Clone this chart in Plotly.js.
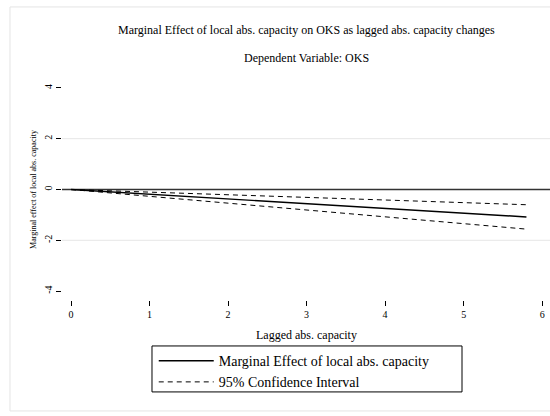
<!DOCTYPE html>
<html>
<head>
<meta charset="utf-8">
<script src="https://cdn.plot.ly/plotly-3.0.1.min.js"></script>
<style>html,body{margin:0;padding:0;background:#fff;}#chart{width:550px;height:416px;}</style>
</head>
<body>
<div id="chart"></div>
<script>
// Data
const lagCapacity = [0, 1, 2, 3, 4, 5, 5.8];
const marginalEffect = [0, -0.19, -0.37, -0.56, -0.75, -0.93, -1.08];
const ciUpper = [0, -0.10, -0.21, -0.31, -0.41, -0.52, -0.60];
const ciLower = [0, -0.27, -0.54, -0.81, -1.08, -1.35, -1.56];
const xTicks = [0, 1, 2, 3, 4, 5, 6];
const yTicks = [-4, -2, 0, 2, 4];
const gridLevels = [-2, 2];

const serif = 'Liberation Serif, Times New Roman, serif';

const traces = [
  {x: lagCapacity, y: marginalEffect, mode: 'lines', name: 'Marginal Effect of local abs. capacity',
   line: {color: '#000', width: 1.4}},
  {x: lagCapacity, y: ciUpper, mode: 'lines', name: '95% Confidence Interval',
   line: {color: '#000', width: 1, dash: '5px,4px'}},
  {x: lagCapacity, y: ciLower, mode: 'lines', name: '95% Confidence Interval', showlegend: false,
   line: {color: '#000', width: 1, dash: '5px,4px'}}
];

const shapes = gridLevels.map(v => ({
  type: 'line', xref: 'paper', x0: 0, x1: 1, yref: 'y', y0: v, y1: v,
  line: {color: '#e6e6e6', width: 1}, layer: 'below'
}));
shapes.push({type: 'line', xref: 'paper', x0: 0, x1: 1, yref: 'y', y0: 0, y1: 0,
  line: {color: '#333', width: 1.5}, layer: 'below'});
// outer frame
shapes.push({type: 'rect', xref: 'paper', yref: 'paper', x0: -0.1066, x1: 1.02, y0: -0.502, y1: 1.326,
  line: {color: '#e4e4e4', width: 1}, fillcolor: 'rgba(0,0,0,0)', layer: 'below'});
// legend frame
shapes.push({type: 'rect', xref: 'paper', yref: 'paper', x0: 0.1844, x1: 0.8197, y0: -0.416, y1: -0.208,
  line: {color: '#000', width: 1}, fillcolor: 'rgba(0,0,0,0)', layer: 'above'});

const layout = {
  width: 550, height: 416,
  margin: {l: 62, r: 0, t: 79, b: 116},
  paper_bgcolor: '#fff', plot_bgcolor: '#fff',
  font: {family: serif, color: '#000'},
  showlegend: true,
  xaxis: {
    range: [-0.115, 6.1], tickvals: xTicks, ticktext: xTicks.map(String),
    ticks: 'outside', ticklen: 5, tickwidth: 1, tickcolor: '#000',
    showgrid: false, zeroline: false, showline: false,
    tickfont: {family: serif, size: 10}
  },
  yaxis: {
    range: [-4.35, 4.35], tickvals: yTicks, ticktext: yTicks.map(String),
    ticks: 'outside', ticklen: 5, tickwidth: 1, tickcolor: '#000', tickangle: -90,
    showgrid: false, zeroline: false, showline: false,
    tickfont: {family: serif, size: 10},
    title: {text: 'Marginal effect of local abs. capacity', font: {family: serif, size: 8}}
  },
  legend: {
    x: 0.188, y: -0.204, xanchor: 'left', yanchor: 'top',
    bgcolor: 'rgba(0,0,0,0)', borderwidth: 0,
    font: {family: serif, size: 14}, itemwidth: 55, tracegroupgap: 0
  },
  shapes: shapes,
  annotations: [
    {text: 'Marginal Effect of local abs. capacity on OKS as lagged abs. capacity changes',
     xref: 'paper', yref: 'paper', x: 0.5, y: 1.2217, showarrow: false,
     xanchor: 'center', yanchor: 'middle', font: {family: serif, size: 12}},
    {text: 'Dependent Variable: OKS',
     xref: 'paper', yref: 'paper', x: 0.5, y: 1.095, showarrow: false,
     xanchor: 'center', yanchor: 'middle', font: {family: serif, size: 12}},
    {text: 'Lagged abs. capacity',
     xref: 'paper', yref: 'paper', x: 0.5, y: -0.1584, showarrow: false,
     xanchor: 'center', yanchor: 'middle', font: {family: serif, size: 12}}
  ]
};

Plotly.newPlot('chart', traces, layout, {displayModeBar: false, staticPlot: true});
</script>
</body>
</html>
